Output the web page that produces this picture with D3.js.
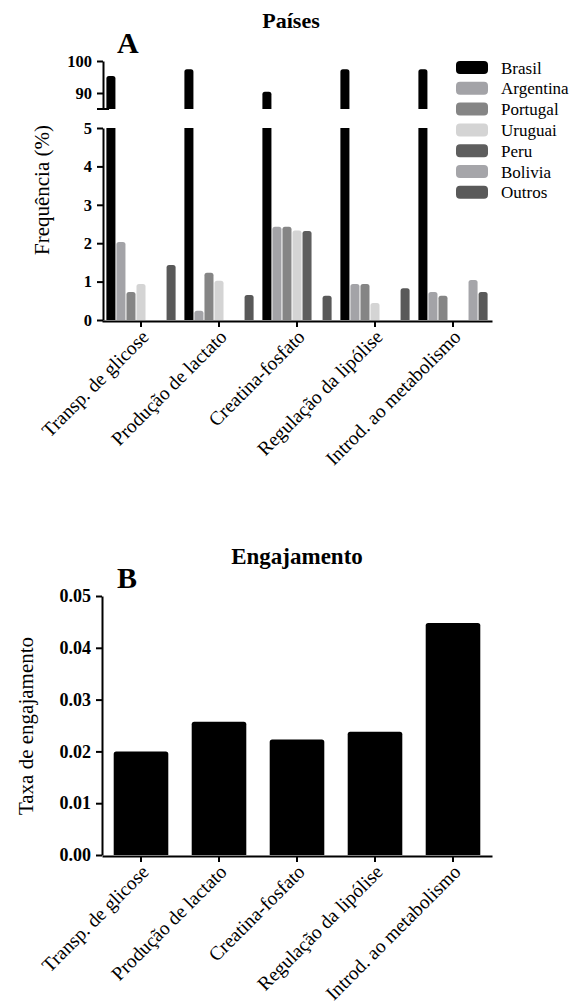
<!DOCTYPE html>
<html>
<head>
<meta charset="utf-8">
<script src="https://cdn.jsdelivr.net/npm/d3@7"></script>
<style>
    body { margin: 0; background: #fff; }
    svg, text { font-family: "Liberation Serif", "Times New Roman", serif; fill: #000; }
    .axis path, .axis line { stroke: #000; stroke-width: 2; fill: none; }
    .axis .tick text { font-family: "Liberation Serif", "Times New Roman", serif; font-weight: bold; font-size: 16.5px; }
    .axisB .tick text { font-size: 18px; }
    .xaxis .tick text { font-weight: normal; font-size: 19.5px; }
</style>
</head>
<body>
<svg width="582" height="1003" font-family="Liberation Serif"></svg>
<script>
const categories = ["Transp. de glicose", "Produção de lactato", "Creatina-fosfato",
    "Regulação da lipólise", "Introd. ao metabolismo"];
const countries = ["Brasil", "Argentina", "Portugal", "Uruguai", "Peru", "Bolivia", "Outros"];

// frequência (%) por país, uma posição por categoria
const brasil = [95.3, 97.4, 90.4, 97.4, 97.4];
const argentina = [2.03, 0.24, 2.43, 0.94, 0.73];
const portugal = [0.73, 1.23, 2.43, 0.94, 0.63];
const uruguai = [0.94, 1.02, 2.33, 0.44, 0];
const peru = [0, 0, 2.32, 0, 0];
const bolivia = [0, 0, 0, 0, 1.04];
const outros = [1.43, 0.65, 0.63, 0.83, 0.73];

const engajamento = [0.0200, 0.0257, 0.0223, 0.0238, 0.0448];

const lowTicks = [0, 1, 2, 3, 4, 5];
const highTicks = [90, 100];
const engTicks = [0, 0.01, 0.02, 0.03, 0.04, 0.05];

const seriesValues = [brasil, argentina, portugal, uruguai, peru, bolivia, outros];
const colors = ["#000000", "#a3a3a7", "#858585", "#d4d4d4", "#5e5e5e", "#a5a5a9", "#595959"];

const svg = d3.select('svg');
const serif = '"Liberation Serif", "Times New Roman", serif';

const topRounded = (x, y, w, h, r) => {
    r = Math.min(r, h, w / 2);
    return `M${x},${y + h}V${y + r}Q${x},${y} ${x + r},${y}H${x + w - r}Q${x + w},${y} ${x + w},${y + r}V${y + h}Z`;
};

const styleAxis = (g) => {
    g.attr('font-family', serif);
    g.selectAll('text').style('font-family', serif);
};

const rotateLabels = (g) => {
    g.selectAll('.tick text')
        .attr('text-anchor', 'end')
        .attr('x', 0).attr('y', 0).attr('dx', 0).attr('dy', 0)
        .attr('transform', 'translate(9,17) rotate(-45)');
};

// ---------- A: Países ----------
const xGroup = d3.scaleBand()
    .domain(categories)
    .range([102, 492])
    .paddingInner(0.1)
    .paddingOuter(0.05);

const xSeries = d3.scaleBand()
    .domain(countries)
    .range([0, xGroup.bandwidth()]);

const yLow = d3.scaleLinear().domain([0, 5]).range([320, 128]);
const yHigh = d3.scaleLinear().domain([85, 100]).range([109, 61]);

const chartA = svg.append('g');

const barData = [];
countries.forEach((c, si) => {
    categories.forEach((cat, ci) => {
        const v = seriesValues[si][ci];
        if (v > 0) barData.push({country: c, cat: cat, value: v, color: colors[si]});
    });
});

barData.forEach(d => {
    const x = xGroup(d.cat) + xSeries(d.country) + 0.5;
    const w = xSeries.bandwidth() - 1;
    if (d.value > 5) {
        // broken bar: lower segment up to the top of the lower axis, upper segment up to the value
        chartA.append('rect')
            .attr('x', x).attr('y', yLow(5))
            .attr('width', w).attr('height', yLow(0) - yLow(5))
            .attr('fill', d.color);
        chartA.append('path')
            .attr('d', topRounded(x, yHigh(d.value), w, yHigh(85) - yHigh(d.value), 2.5))
            .attr('fill', d.color);
    } else {
        chartA.append('path')
            .attr('d', topRounded(x, yLow(d.value), w, yLow(0) - yLow(d.value), 2.5))
            .attr('fill', d.color);
    }
});

chartA.append('g')
    .attr('class', 'axis')
    .attr('transform', 'translate(103,0)')
    .call(d3.axisLeft(yLow).tickValues(lowTicks).tickFormat(d3.format('d'))
        .tickSize(6).tickSizeOuter(0).tickPadding(5))
    .call(styleAxis);

chartA.append('g')
    .attr('class', 'axis')
    .attr('transform', 'translate(103,0)')
    .call(d3.axisLeft(yHigh).tickValues(highTicks).tickFormat(d3.format('d'))
        .tickSize(6).tickSizeOuter(0).tickPadding(5))
    .call(styleAxis);

// axis break mark
chartA.append('line')
    .attr('x1', 97).attr('x2', 109)
    .attr('y1', yHigh(85)).attr('y2', yHigh(85))
    .attr('stroke', '#000').attr('stroke-width', 2);

chartA.append('g')
    .attr('class', 'axis xaxis')
    .attr('transform', `translate(0, ${yLow(0) + 1})`)
    .call(d3.axisBottom(xGroup).tickSize(6).tickSizeOuter(0))
    .call(styleAxis)
    .call(rotateLabels);

svg.append('text')
    .attr('x', 291).attr('y', 28)
    .attr('text-anchor', 'middle')
    .style('font-weight', 'bold').style('font-size', '22px')
    .text('Países');

svg.append('text')
    .attr('x', 117).attr('y', 53)
    .style('font-weight', 'bold').style('font-size', '30px')
    .text('A');

svg.append('text')
    .attr('transform', 'translate(49,190) rotate(-90)')
    .attr('text-anchor', 'middle')
    .style('font-size', '21px')
    .text('Frequência (%)');

// legend
const legend = svg.append('g');
countries.forEach((c, i) => {
    const row = legend.append('g').attr('transform', `translate(456, ${61 + i * 20.8})`);
    row.append('rect')
        .attr('width', 32).attr('height', 13).attr('rx', 4)
        .attr('fill', colors[i]);
    row.append('text')
        .attr('x', 45).attr('y', 12.5)
        .style('font-size', '17px')
        .text(c);
});

// ---------- B: Engajamento ----------
const xB = d3.scaleBand()
    .domain(categories)
    .range([102, 492])
    .paddingInner(0.3)
    .paddingOuter(0.15);

const yB = d3.scaleLinear().domain([0, 0.05]).range([855, 596]);

const chartB = svg.append('g');

chartB.selectAll('path.barB')
    .data(categories)
    .enter()
    .append('path')
    .attr('class', 'barB')
    .attr('d', (c, i) => topRounded(xB(c), yB(engajamento[i]), xB.bandwidth(), yB(0) - yB(engajamento[i]), 2.5))
    .attr('fill', '#000');

chartB.append('g')
    .attr('class', 'axis axisB')
    .attr('transform', 'translate(102,0)')
    .call(d3.axisLeft(yB).tickValues(engTicks).tickFormat(d3.format('.2f'))
        .tickSize(6).tickSizeOuter(0).tickPadding(5))
    .call(styleAxis);

chartB.append('g')
    .attr('class', 'axis xaxis')
    .attr('transform', `translate(0, ${yB(0) + 1})`)
    .call(d3.axisBottom(xB).tickSize(6).tickSizeOuter(0))
    .call(styleAxis)
    .call(rotateLabels);

svg.append('text')
    .attr('x', 297).attr('y', 564)
    .attr('text-anchor', 'middle')
    .style('font-weight', 'bold').style('font-size', '23px')
    .text('Engajamento');

svg.append('text')
    .attr('x', 117).attr('y', 588)
    .style('font-weight', 'bold').style('font-size', '30px')
    .text('B');

svg.append('text')
    .attr('transform', 'translate(33,726) rotate(-90)')
    .attr('text-anchor', 'middle')
    .style('font-size', '21px')
    .text('Taxa de engajamento');
</script>
</body>
</html>
